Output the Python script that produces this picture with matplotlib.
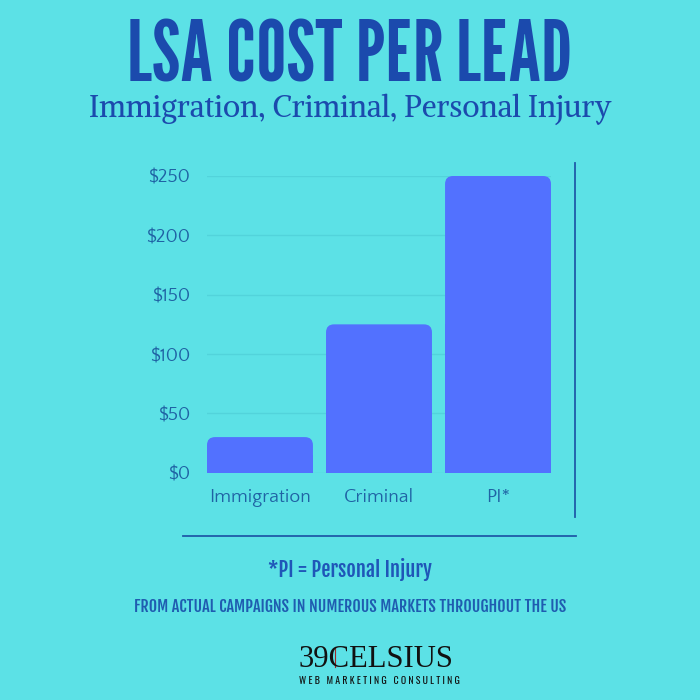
import matplotlib
matplotlib.use("Agg")
import matplotlib.pyplot as plt
from matplotlib.patches import FancyBboxPatch, Rectangle
from matplotlib.lines import Line2D

# ---- data ----
categories = ["Immigration", "Criminal", "PI*"]
cost_per_lead = [30, 125, 250]
y_ticks = [0, 50, 100, 150, 200, 250]
y_tick_labels = ["$0", "$50", "$100", "$150", "$200", "$250"]

title = "LSA COST PER LEAD"
subtitle = "Immigration, Criminal, Personal Injury"
footnote = "*PI = Personal Injury"
source_note = "FROM ACTUAL CAMPAIGNS IN NUMEROUS MARKETS THROUGHOUT THE US"
logo_main = "39CELSIUS"
logo_sub = "WEB MARKETING CONSULTING"

# ---- colours ----
bg = "#5ce1e6"
bar_col = "#5271ff"
title_col = "#1b4aad"
tick_col = "#1f62a4"
grid_col = "#52d3db"
rule_col = "#1f5aa8"

W, H = 700, 700
fig = plt.figure(figsize=(7, 7), dpi=100, facecolor=bg)

# axes placed on the reference pixel box
ax_l, ax_r, ax_b, ax_t = 207, 551, 472.7, 176
ax = fig.add_axes([ax_l / W, 1 - ax_b / H, (ax_r - ax_l) / W, (ax_b - ax_t) / H])
ax.patch.set_alpha(0)

bar_w = 0.89
x = list(range(len(categories)))
bars = ax.bar(x, cost_per_lead, width=bar_w, color=bar_col, zorder=3)

# rounded top corners
px_per_x = (ax_r - ax_l) / (len(categories) - 1 + bar_w)
px_per_y = (ax_b - ax_t) / 250.0
rad = 8 / px_per_x
for b in bars:
    b.set_visible(False)
    x0, w, h = b.get_x(), b.get_width(), b.get_height()
    ax.add_patch(FancyBboxPatch((x0, 0), w, h,
                                boxstyle=f"round,pad=0,rounding_size={rad}",
                                mutation_aspect=px_per_x / px_per_y,
                                fc=bar_col, ec="none", zorder=3))
    ax.add_patch(Rectangle((x0, 0), w, h / 2, fc=bar_col, ec="none", zorder=3))

ax.set_xlim(-bar_w / 2, len(categories) - 1 + bar_w / 2)
ax.set_ylim(0, 250)
ax.set_yticks(y_ticks)
ax.set_yticklabels(y_tick_labels)
ax.set_xticks(x)
ax.set_xticklabels(categories)
ax.tick_params(axis="y", length=0, pad=12, labelsize=13.5, labelcolor=tick_col)
ax.tick_params(axis="x", length=0, pad=11, labelsize=14, labelcolor=tick_col)
for lab in ax.get_xticklabels() + ax.get_yticklabels():
    lab.set_family("Quattrocento Sans")
ax.grid(axis="y", color=grid_col, linewidth=1, zorder=0)
ax.grid(axis="x", visible=False)
for s in ax.spines.values():
    s.set_visible(False)

# frame lines
fig.add_artist(Line2D([575 / W, 575 / W], [1 - 163 / H, 1 - 517 / H],
                      color=rule_col, linewidth=1.3))
fig.add_artist(Line2D([183 / W, 576 / W], [1 - 536 / H, 1 - 536 / H],
                      color=rule_col, linewidth=1.3))


def put(txt, base_y, width_px, family, color, weight="normal", x_px=350):
    t = fig.text(x_px / W, 1 - base_y / H, txt, ha="center", va="baseline",
                 fontsize=20, family=family, color=color, fontweight=weight)
    fig.canvas.draw()
    wcur = t.get_window_extent().width
    t.set_fontsize(20 * width_px / wcur)
    return t


put(title, 81, 445, "League Gothic", title_col)
put(subtitle, 117, 522, "Alike", title_col)
put(footnote, 577, 165, "Fjalla One", "#1f56b8")
put(source_note, 612, 430, "Fjalla One", "#1f5cb0")
put(logo_main, 667, 155, "Liberation Serif", "#111111", x_px=376)
put(" ".join(logo_sub), 683.5, 162, "Oswald", "#111111", x_px=379)
# thin red stroke between 9 and C in the logo
fig.add_artist(Line2D([335 / W, 335 / W], [1 - 647 / H, 1 - 667 / H],
                      color="#9c2a2a", linewidth=0.8))

fig.savefig("out.png", dpi=100, facecolor=bg)
